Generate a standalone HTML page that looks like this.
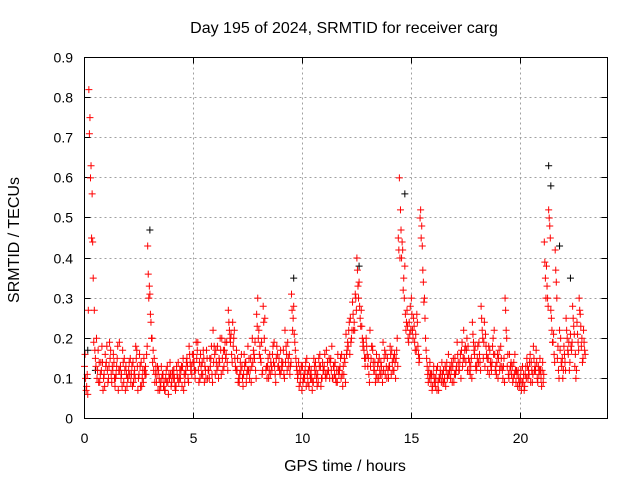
<!DOCTYPE html>
<html><head><meta charset="utf-8"><style>
body{margin:0;background:#fff;}
svg text{font-family:"Liberation Sans",sans-serif;font-size:14px;fill:#000;}
svg text.big{font-size:16px;}
</style></head><body>
<svg id="chart" width="640" height="480" xmlns="http://www.w3.org/2000/svg">
<text class="big" x="344" y="33" text-anchor="middle">Day 195 of 2024, SRMTID for receiver carg</text>
<text class="big" x="345" y="471" text-anchor="middle">GPS time / hours</text>
<text class="big" transform="translate(19,240) rotate(-90)" text-anchor="middle">SRMTID / TECUs</text>
<g id="grid"></g>
<g id="ticks"></g>
<g id="black"></g>
<g id="red"></g>
<rect x="84.5" y="57.5" width="523" height="361" fill="none" stroke="#000"/>
</svg>
<script>
const xTicks=[0,5,10,15,20];
const yTicks=[0,0.1,0.2,0.3,0.4,0.5,0.6,0.7,0.8,0.9];
const yTickLabels=["0","0.1","0.2","0.3","0.4","0.5","0.6","0.7","0.8","0.9"];
const seriesA=[.13,.08,.82,.63,.35,.15,.12,.09,.18,.11,.14,.10,.17,.12,.08,.15,.19,.11,.09,.13,.10,.15,.08,.12,.17,.11,.14,.09,.13,.43,.31,.20,.15,.09,.12,.08,.11,.07,.13,.10,.09,.12,.08,.14,.10,.13,.09,.15,.18,.13,.16,.12,.19,.10,.14,.09,.17,.12,.15,.22,.11,.18,.14,.20,.13,.16,.27,.19,.24,.15,.12,.09,.16,.11,.14,.18,.12,.20,.15,.26,.22,.14,.28,.17,.13,.16,.12,.19,.15,.13,.17,.14,.22,.12,.16,.31,.28,.15,.11,.09,.13,.10,.15,.08,.12,.09,.14,.11,.16,.10,.13,.17,.12,.15,.10,.14,.09,.12,.16,.11,.21,.18,.25,.29,.22,.40,.34,.27,.19,.15,.13,.22,.18,.12,.16,.10,.14,.19,.11,.15,.13,.17,.12,.15,.45,.52,.42,.38,.27,.24,.30,.25,.21,.18,.50,.43,.30,.15,.12,.09,.11,.08,.13,.10,.14,.09,.12,.16,.10,.13,.15,.19,.12,.17,.22,.14,.18,.11,.24,.16,.13,.19,.28,.15,.21,.12,.17,.14,.22,.11,.15,.18,.10,.30,.13,.16,.11,.14,.09,.12,.10,.13,.08,.15,.11,.14,.18,.12,.09,.15,.12,.44,.38,.52,.27,.19,.42,.15,.22,.13,.18,.25,.16,.21,.28,.13,.24,.30,.18,.22];
const seriesB=[.10,.06,.75,.56,.27,.20,.09,.14,.07,.16,.12,.19,.09,.14,.11,.07,.13,.17,.12,.08,.14,.11,.09,.18,.07,.13,.10,.12,.16,.30,.24,.17,.11,.13,.07,.10,.09,.12,.06,.11,.12,.08,.11,.10,.13,.07,.12,.10,.14,.16,.12,.15,.09,.13,.17,.12,.10,.15,.11,.18,.14,.10,.17,.12,.19,.14,.22,.16,.20,.12,.09,.14,.10,.13,.11,.15,.09,.17,.12,.30,.18,.11,.20,.13,.10,.14,.18,.11,.16,.12,.14,.11,.18,.15,.13,.22,.19,.12,.08,.13,.10,.14,.09,.11,.07,.13,.10,.15,.08,.12,.11,.14,.10,.18,.13,.09,.12,.15,.08,.14,.17,.24,.20,.22,.30,.33,.25,.20,.15,.18,.11,.15,.14,.09,.13,.12,.11,.15,.13,.10,.16,.12,.14,.20,.60,.40,.35,.22,.20,.28,.22,.19,.26,.14,.45,.34,.20,.11,.14,.07,.09,.12,.07,.11,.09,.13,.10,.12,.14,.09,.12,.14,.16,.13,.17,.20,.12,.15,.19,.13,.18,.14,.22,.24,.16,.18,.13,.20,.12,.16,.12,.13,.15,.22,.11,.13,.09,.16,.11,.08,.07,.11,.13,.10,.16,.09,.12,.14,.11,.10,.09,.35,.30,.48,.22,.16,.34,.12,.20,.10,.14,.20,.12,.17,.23,.10,.19,.26,.14,.17];
const seriesC=[.16,.11,.71,.45,.19,.13,.17,.11,.14,.08,.18,.13,.11,.16,.10,.18,.12,.08,.15,.11,.12,.09,.14,.10,.13,.16,.08,.15,.11,.36,.26,.14,.09,.11,.10,.13,.08,.10,.09,.14,.11,.10,.13,.09,.12,.15,.11,.13,.16,.11,.14,.19,.12,.16,.11,.13,.15,.10,.18,.14,.17,.13,.20,.15,.17,.19,.24,.21,.18,.13,.15,.11,.13,.16,.09,.12,.15,.14,.19,.23,.16,.19,.24,.12,.15,.11,.16,.13,.18,.15,.12,.17,.14,.19,.11,.27,.21,.13,.14,.11,.09,.12,.11,.13,.10,.15,.12,.09,.13,.14,.16,.11,.15,.12,.13,.10,.16,.13,.11,.15,.16,.22,.19,.26,.31,.37,.28,.23,.17,.20,.15,.13,.17,.14,.10,.15,.13,.12,.16,.12,.18,.14,.16,.17,.42,.47,.32,.26,.23,.21,.26,.23,.17,.16,.52,.37,.25,.13,.10,.11,.13,.10,.09,.12,.11,.10,.14,.11,.12,.15,.11,.16,.14,.19,.15,.17,.15,.13,.21,.18,.15,.16,.25,.19,.18,.15,.14,.18,.16,.14,.17,.15,.13,.27,.16,.12,.13,.11,.12,.10,.12,.09,.11,.13,.14,.12,.15,.17,.13,.12,.14,.39,.33,.50,.25,.21,.37,.18,.17,.15,.16,.22,.19,.18,.25,.16,.21,.27,.20,.19];
const seriesD=[.07,.27,.60,.44,.17,.10,.14,.12,.10,.13,.09,.15,.13,.10,.13,.12,.10,.14,.07,.10,.11,.13,.11,.15,.10,.08,.12,.11,.18,.33,.20,.12,.13,.07,.09,.11,.07,.09,.11,.08,.10,.07,.10,.12,.08,.11,.14,.09,.12,.14,.10,.17,.14,.11,.15,.10,.12,.13,.09,.16,.12,.15,.11,.17,.15,.12,.20,.14,.22,.17,.10,.12,.08,.14,.12,.10,.13,.16,.10,.20,.15,.12,.25,.10,.12,.13,.14,.09,.13,.11,.13,.10,.16,.13,.14,.25,.17,.10,.12,.07,.11,.08,.12,.10,.09,.11,.08,.13,.10,.12,.10,.12,.14,.10,.11,.12,.11,.10,.13,.09,.19,.16,.22,.24,.27,.30,.23,.18,.13,.16,.09,.18,.12,.11,.14,.11,.09,.17,.10,.13,.11,.15,.10,.13,.40,.44,.30,.24,.19,.22,.20,.17,.24,.15,.48,.29,.17,.09,.11,.08,.10,.07,.10,.09,.12,.08,.11,.13,.09,.11,.13,.12,.10,.15,.18,.12,.14,.10,.17,.12,.14,.12,.20,.13,.15,.11,.12,.16,.13,.10,.13,.12,.09,.20,.10,.14,.10,.12,.08,.09,.09,.07,.10,.12,.09,.11,.13,.10,.12,.08,.11,.30,.28,.45,.19,.14,.30,.10,.14,.12,.12,.17,.14,.19,.21,.12,.17,.23,.15,.16];
const blackTimes=[0.15,3.0,9.6,12.6,14.7,21.3,21.4,21.8,22.3,0.5];
const blackValues=[0.17,0.47,0.35,0.38,0.56,0.63,0.58,0.43,0.35,0.12];
const ns="http://www.w3.org/2000/svg";
const X0=84.5,X1=607.5,Y0=418.5,Y1=57.5;
const xs=v=>X0+(v/24)*(X1-X0);
const ys=v=>Y0-(v/0.9)*(Y0-Y1);
function mk(tag,attrs,parent){const e=document.createElementNS(ns,tag);for(const k in attrs)e.setAttribute(k,attrs[k]);parent.appendChild(e);return e;}
const grid=document.getElementById('grid'),ticks=document.getElementById('ticks');
xTicks.forEach((t,i)=>{const x=Math.round(xs(t)-0.5)+0.5;
 if(t>0){const g=mk('line',{x1:x,x2:x,y1:Y1,y2:Y0,stroke:'#a0a0a0','stroke-dasharray':'2,3'},grid);}
 const a=mk('line',{x1:x,x2:x,y1:Y0,y2:Y0-6,stroke:'#000'},ticks);
 const b=mk('line',{x1:x,x2:x,y1:Y1,y2:Y1+6,stroke:'#000'},ticks);
 const l=mk('text',{x:x,y:443,'text-anchor':'middle'},ticks);l.textContent=String(t);});
yTicks.forEach((t,i)=>{const y=Math.round(ys(t)-0.5)+0.5;
 if(t>0&&t<0.9){const g=mk('line',{x1:X0,x2:X1,y1:y,y2:y,stroke:'#a0a0a0','stroke-dasharray':'2,3'},grid);}
 const a=mk('line',{x1:X0,x2:X0+6,y1:y,y2:y,stroke:'#000'},ticks);
 const b=mk('line',{x1:X1,x2:X1-6,y1:y,y2:y,stroke:'#000'},ticks);
 const l=mk('text',{x:73,y:y+5,'text-anchor':'end'},ticks);l.textContent=yTickLabels[i];});
function plus(g,t,v,c){const x=xs(t),y=ys(v);
 const p=mk('path',{d:`M${x-3.5},${y}h7M${x},${y-3.5}v7`,stroke:c,'stroke-width':1,fill:'none'},g);
 }
const bg=document.getElementById('black'),rg=document.getElementById('red');
blackTimes.forEach((t,i)=>plus(bg,t,blackValues[i],'#000'));
seriesA.forEach((v,i)=>plus(rg,i*0.1,v,'#f00'));
seriesC.forEach((v,i)=>plus(rg,i*0.1+0.025,v,'#f00'));
seriesB.forEach((v,i)=>plus(rg,i*0.1+0.05,v,'#f00'));
seriesD.forEach((v,i)=>plus(rg,i*0.1+0.075,v,'#f00'));
</script>
</body></html>
